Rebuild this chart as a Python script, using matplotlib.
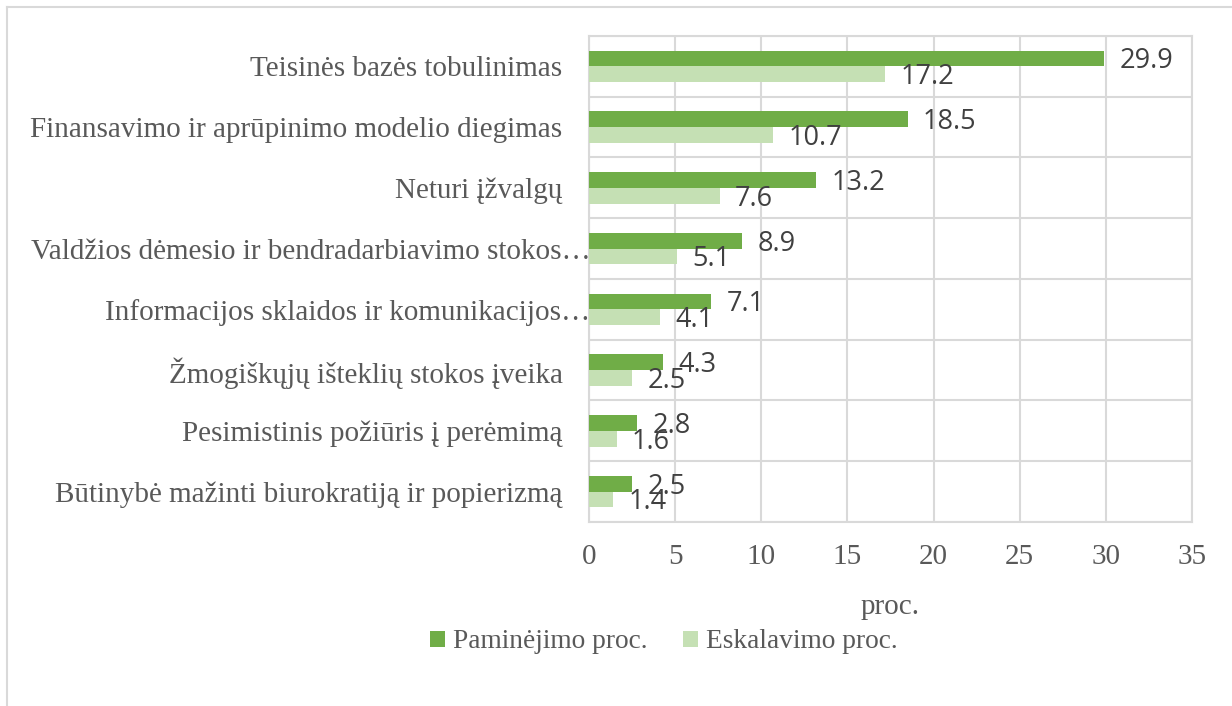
import matplotlib.pyplot as plt
from matplotlib.lines import Line2D
from matplotlib.transforms import ScaledTranslation
import numpy as np

categories = [
    "Teisinės bazės tobulinimas",
    "Finansavimo ir aprūpinimo modelio diegimas",
    "Neturi įžvalgų",
    "Valdžios dėmesio ir bendradarbiavimo stokos…",
    "Informacijos sklaidos ir komunikacijos…",
    "Žmogiškųjų išteklių stokos įveika",
    "Pesimistinis požiūris į perėmimą",
    "Būtinybė mažinti biurokratiją ir popierizmą",
]
paminejimo = [29.9, 18.5, 13.2, 8.9, 7.1, 4.3, 2.8, 2.5]
eskalavimo = [17.2, 10.7, 7.6, 5.1, 4.1, 2.5, 1.6, 1.4]
series_names = ["Paminėjimo proc.", "Eskalavimo proc."]
x_ticks = [0, 5, 10, 15, 20, 25, 30, 35]

dark = "#70AD47"
light = "#C5E0B4"
grid_c = "#D9D9D9"
text_c = "#595959"

W, H = 1232, 706
fig = plt.figure(figsize=(W / 100, H / 100), dpi=100)
ax = fig.add_axes([589 / W, 1 - 522 / H, (1192 - 589) / W, (522 - 36) / H])

y = np.arange(len(categories))
h = 0.26
b1 = ax.barh(y - h / 2, paminejimo, height=h, color=dark, label=series_names[0], zorder=3)
b2 = ax.barh(y + h / 2, eskalavimo, height=h, color=light, label=series_names[1], zorder=3)

for bars, vals in ((b1, paminejimo), (b2, eskalavimo)):
    for bar, v in zip(bars, vals):
        ax.annotate(f"{v:.1f}", (v, bar.get_y() + bar.get_height() / 2),
                    xytext=(11, -2), textcoords="offset points",
                    ha="left", va="center", fontsize=19.5, family="Open Sans",
                    color="#404040", zorder=4)

ax.set_xlim(0, 35)
ax.set_ylim(len(categories) - 0.5, -0.5)
ax.set_xticks(x_ticks)
ax.set_xticklabels([str(t) for t in x_ticks], family="Liberation Serif", fontsize=21, color=text_c)
ax.set_yticks(y)
ax.set_yticklabels(categories, family="Liberation Serif", fontsize=21, color=text_c)
ax.set_yticks(np.arange(-0.5, len(categories), 1.0), minor=True)
ax.tick_params(axis="both", which="both", length=0)
ax.tick_params(axis="y", pad=19)
ax.tick_params(axis="x", pad=16)

# truncated labels: the ellipsis runs past the text edge, as in the original
for lbl in ax.get_yticklabels():
    if lbl.get_text().endswith("…"):
        lbl.set_transform(lbl.get_transform() + ScaledTranslation(20 / 72, 0, fig.dpi_scale_trans))

ax.grid(axis="x", which="major", color=grid_c, lw=1.5, zorder=0)
ax.grid(axis="y", which="minor", color=grid_c, lw=1.5, zorder=0)
for s in ax.spines.values():
    s.set_color(grid_c)
    s.set_linewidth(1.5)

ax.set_xlabel("proc.", family="Liberation Serif", fontsize=21, color=text_c, labelpad=17)

fig.legend(handles=[b1, b2], labels=series_names, loc="center",
           bbox_to_anchor=(664 / W, 1 - 642 / H), ncol=2, frameon=False,
           prop={"family": "Liberation Serif", "size": 19.7}, labelcolor=text_c,
           handlelength=0.55, handleheight=0.55, handletextpad=0.3, columnspacing=1.3)

# chart area border
fig.add_artist(Line2D([7 / W, 7 / W], [0, 1 - 7 / H], color=grid_c, lw=1.5))
fig.add_artist(Line2D([7 / W, 1], [1 - 7 / H, 1 - 7 / H], color=grid_c, lw=1.5))

fig.savefig("out.png", dpi=100)
